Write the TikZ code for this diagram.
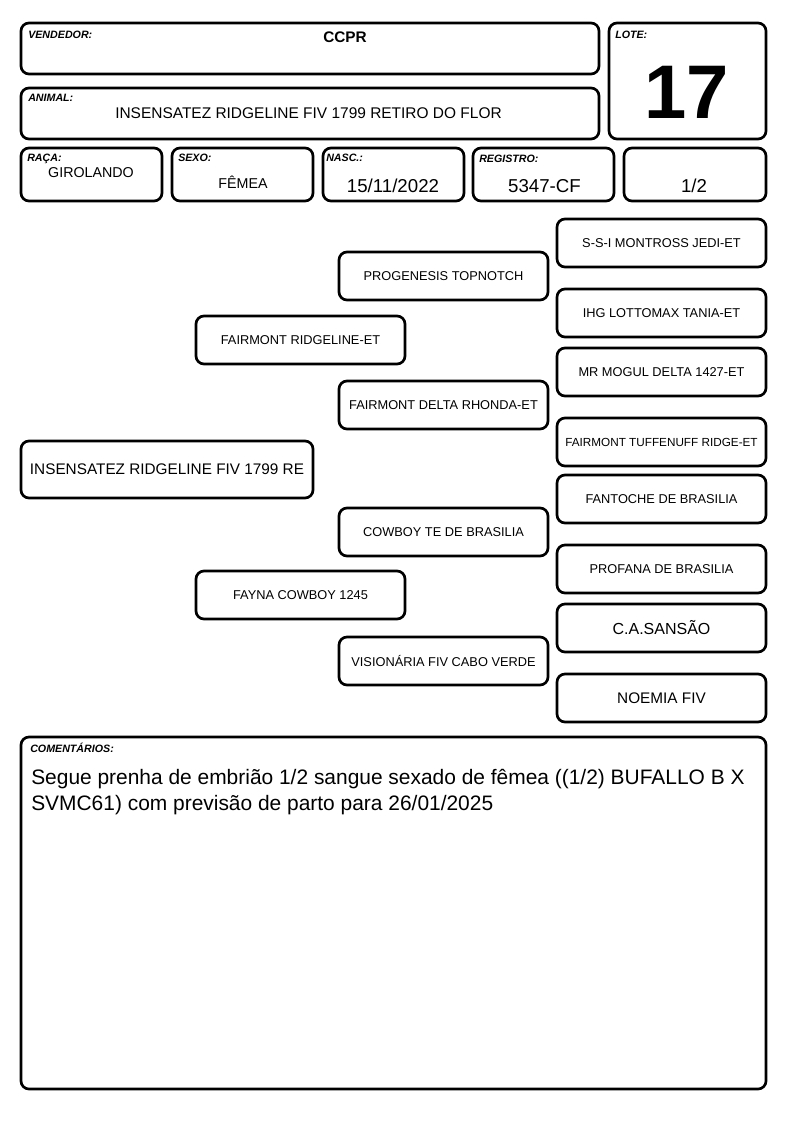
\documentclass[tikz,border=0pt]{standalone}
\usepackage{fontspec}
\setmainfont{Liberation Sans}
\usetikzlibrary{fit}
\begin{document}
\begin{tikzpicture}[x=0.75pt,y=-0.75pt,
  box/.style={draw, line width=2pt, rounded corners=6pt, inner sep=0pt},
  lbl/.style={anchor=base west, inner sep=0pt, font=\fontsize{8}{9}\selectfont\bfseries\itshape},
  val/.style={anchor=base, inner sep=0pt},
  ptxt/.style={inner sep=0pt, font=\fontsize{9.6}{11}\selectfont}]
\useasboundingbox (0,0) rectangle (794,1123);
% header boxes
\node[box, fit={(21,23)(599,74)}] (vend) {};
\node[box, fit={(609,23)(766,139)}] (lote) {};
\node[box, fit={(21,88)(599,139)}] (animal) {};
\node[box, fit={(21,148)(162,201)}] (raca) {};
\node[box, fit={(172,148)(313,201)}] (sexo) {};
\node[box, fit={(323,148)(464,201)}] (nasc) {};
\node[box, fit={(473,148)(614,201)}] (reg) {};
\node[box, fit={(624,148)(766,201)}] (frac) {};
% labels
\node[lbl] (lvend) at (28,39) {VENDEDOR:};
\node[lbl] (llote) at (615,39) {LOTE:};
\node[lbl] (lanimal) at (28,102) {ANIMAL:};
\node[lbl] (lraca) at (27,162) {RAÇA:};
\node[lbl] (lsexo) at (178,162) {SEXO:};
\node[lbl] (lnasc) at (326,162) {NASC.:};
\node[lbl] (lreg) at (479,163) {REGISTRO:};
% values
\node[val, font=\fontsize{11.5}{13}\selectfont\bfseries] (vvend) at (345,43) {CCPR};
\node[val, font=\fontsize{11.6}{13}\selectfont] (vanimal) at (308.5,119) {INSENSATEZ RIDGELINE FIV 1799 RETIRO DO FLOR};
\node[val, font=\fontsize{57}{60}\selectfont\bfseries] (vlote) at (687,119) {17};
\node[val, font=\fontsize{10.7}{12}\selectfont] (vraca) at (91,178) {GIROLANDO};
\node[val, font=\fontsize{10.7}{12}\selectfont] (vsexo) at (243,189) {FÊMEA};
\node[val, font=\fontsize{14}{16}\selectfont] (vnasc) at (393,193) {15/11/2022};
\node[val, font=\fontsize{14}{16}\selectfont] (vreg) at (544.5,193) {5347-CF};
\node[val, font=\fontsize{14}{16}\selectfont] (vfrac) at (694,193) {1/2};
% pedigree boxes
\node[box, fit={(21,441)(313,498)}] (anim) {};
\node[box, fit={(196,316)(405,364)}] (pai) {};
\node[box, fit={(196,571)(405,619)}] (mae) {};
\node[box, fit={(339,252)(548,300)}] (avpp) {};
\node[box, fit={(339,381)(548,429)}] (avpm) {};
\node[box, fit={(339,508)(548,556)}] (avmp) {};
\node[box, fit={(339,637)(548,685)}] (avmm) {};
\node[box, fit={(557,219)(766,267)}] (b1) {};
\node[box, fit={(557,289)(766,337)}] (b2) {};
\node[box, fit={(557,348)(766,396)}] (b3) {};
\node[box, fit={(557,418)(766,466)}] (b4) {};
\node[box, fit={(557,475)(766,523)}] (b5) {};
\node[box, fit={(557,545)(766,593)}] (b6) {};
\node[box, fit={(557,604)(766,652)}] (b7) {};
\node[box, fit={(557,674)(766,722)}] (b8) {};
% pedigree texts
\node[ptxt, font=\fontsize{11.5}{13}\selectfont] (animt) at (anim.center) {INSENSATEZ RIDGELINE FIV 1799 RE};
\node[ptxt] (pait) at (pai.center) {FAIRMONT RIDGELINE-ET};
\node[ptxt] (maet) at (mae.center) {FAYNA COWBOY 1245};
\node[ptxt] (avppt) at (avpp.center) {PROGENESIS TOPNOTCH};
\node[ptxt] (avpmt) at (avpm.center) {FAIRMONT DELTA RHONDA-ET};
\node[ptxt] (avmpt) at (avmp.center) {COWBOY TE DE BRASILIA};
\node[ptxt] (avmmt) at (avmm.center) {VISIONÁRIA FIV CABO VERDE};
\node[ptxt] (b1t) at (b1.center) {S-S-I MONTROSS JEDI-ET};
\node[ptxt] (b2t) at (b2.center) {IHG LOTTOMAX TANIA-ET};
\node[ptxt] (b3t) at (b3.center) {MR MOGUL DELTA 1427-ET};
\node[ptxt, font=\fontsize{8.8}{10}\selectfont] (b4t) at (b4.center) {FAIRMONT TUFFENUFF RIDGE-ET};
\node[ptxt] (b5t) at (b5.center) {FANTOCHE DE BRASILIA};
\node[ptxt] (b6t) at (b6.center) {PROFANA DE BRASILIA};
\node[ptxt, font=\fontsize{12}{14}\selectfont] (b7t) at (b7.center) {C.A.SANSÃO};
\node[ptxt, font=\fontsize{11.5}{13}\selectfont] (b8t) at (b8.center) {NOEMIA FIV};
% comments
\node[box, fit={(21,737)(766,1089)}] (coment) {};
\node[lbl] (lcoment) at (30,752) {COMENTÁRIOS:};
\node[anchor=base west, inner sep=0pt, align=left, font=\fontsize{15.7}{19.5}\selectfont] (tcoment) at (31,810)
  {Segue prenha de embrião 1/2 sangue sexado de fêmea ((1/2) BUFALLO B X\\SVMC61) com previsão de parto para 26/01/2025};
\end{tikzpicture}
\end{document}
